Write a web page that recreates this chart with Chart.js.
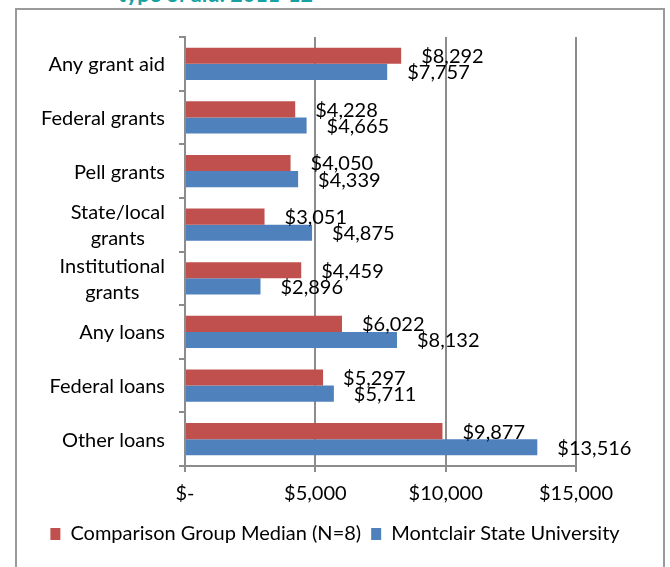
<!DOCTYPE html>
<html>
<head>
<meta charset="utf-8">
<script src="https://cdn.jsdelivr.net/npm/chart.js@4.4.1/dist/chart.umd.min.js"></script>
<style>
  html, body { margin: 0; padding: 0; background: #fff; width: 670px; height: 567px; overflow: hidden; }
  #frame { position: absolute; left: 15px; top: 8px; width: 650px; height: 600px; border: 2px solid #9a9a9a; box-sizing: border-box; }
  #titleclip { position: absolute; left: 0; top: 0; width: 670px; height: 5px; overflow: hidden; }
  #title { position: absolute; left: 118px; top: -16px; font: bold 21.5px Lato, sans-serif; line-height: 21px; color: #17a2a2; white-space: nowrap; }
  #c { position: absolute; left: 0; top: 0; }
</style>
</head>
<body>
<div id="titleclip"><div id="title">type of aid: 2011-12</div></div>
<div id="frame"></div>
<canvas id="c" width="670" height="567"></canvas>
<script>
const categories = [
  ["Any grant aid"],
  ["Federal grants"],
  ["Pell grants"],
  ["State/local", "grants"],
  ["Institutional", "grants"],
  ["Any loans"],
  ["Federal loans"],
  ["Other loans"]
];
const seriesNames = ["Comparison Group Median (N=8)", "Montclair State University"];
const comparisonValues = [8292, 4228, 4050, 3051, 4459, 6022, 5297, 9877];
const montclairValues = [7757, 4665, 4339, 4875, 2896, 8132, 5711, 13516];
const xTicks = [0, 5000, 10000, 15000];

const FONT = "Lato, 'Liberation Sans', sans-serif";
const FS = 20;
const GRID = '#8c8c8c';

function money(v) { return v === 0 ? '$-' : '$' + v.toLocaleString('en-US'); }

const labelPlugin = {
  id: 'customLabels',
  afterDraw(chart) {
    const ctx = chart.ctx;
    const yScale = chart.scales.y;
    ctx.save();
    ctx.font = FS + 'px ' + FONT;
    ctx.fillStyle = '#000';
    const rightEdge = yScale.right - 20;
    const lh = 26;
    categories.forEach((lines, i) => {
      const yc = yScale.getPixelForTick(i);
      const maxW = Math.max(...lines.map(l => ctx.measureText(l).width));
      const cx = rightEdge - maxW / 2;
      ctx.textAlign = 'center';
      ctx.textBaseline = 'middle';
      const y0 = yc - (lines.length - 1) * lh / 2 + 1;
      lines.forEach((l, k) => ctx.fillText(l, cx, y0 + k * lh));
    });
    ctx.textAlign = 'left';
    ctx.textBaseline = 'middle';
    chart.data.datasets.forEach((ds, di) => {
      const meta = chart.getDatasetMeta(di);
      meta.data.forEach((bar, i) => {
        ctx.fillText(money(ds.data[i]), bar.x + 20, bar.y + 1);
      });
    });
    ctx.restore();
  }
};

new Chart(document.getElementById('c'), {
  type: 'bar',
  data: {
    labels: categories.map(l => l.join(' ')),
    datasets: [
      { label: seriesNames[0], data: comparisonValues, backgroundColor: '#C0504D', categoryPercentage: 0.6, barPercentage: 1.0 },
      { label: seriesNames[1], data: montclairValues, backgroundColor: '#4F81BD', categoryPercentage: 0.6, barPercentage: 1.0 }
    ]
  },
  options: {
    indexAxis: 'y',
    responsive: false,
    animation: false,
    layout: { padding: { top: 37, right: 0, bottom: 13, left: 0 } },
    scales: {
      x: {
        min: 0, max: 15000,
        afterBuildTicks(scale) { scale.ticks = xTicks.map(v => ({ value: v })); },
        ticks: { callback: v => money(v), color: '#000', font: { family: FONT, size: FS }, padding: 10 },
        grid: { color: GRID, lineWidth: 2, tickLength: 6 },
        border: { color: GRID, width: 2 },
        afterFit(scale) { scale.height = 48; }
      },
      y: {
        type: 'category',
        offset: true,
        grid: { offset: true, drawOnChartArea: false, color: GRID, lineWidth: 2, tickLength: 6 },
        border: { color: GRID, width: 2 },
        ticks: { display: false },
        afterFit(scale) { scale.width = 185; }
      },
      yRightSpace: {
        type: 'linear',
        position: 'right',
        display: true,
        grid: { display: false, drawTicks: false },
        border: { display: false },
        ticks: { display: false },
        afterFit(scale) { scale.width = 94; }
      }
    },
    plugins: {
      legend: {
        position: 'bottom',
        labels: { color: '#000', font: { family: FONT, size: FS }, boxWidth: 10, boxHeight: 12, padding: 10 }
      },
      tooltip: { enabled: false }
    }
  },
  plugins: [labelPlugin]
});
</script>
</body>
</html>
